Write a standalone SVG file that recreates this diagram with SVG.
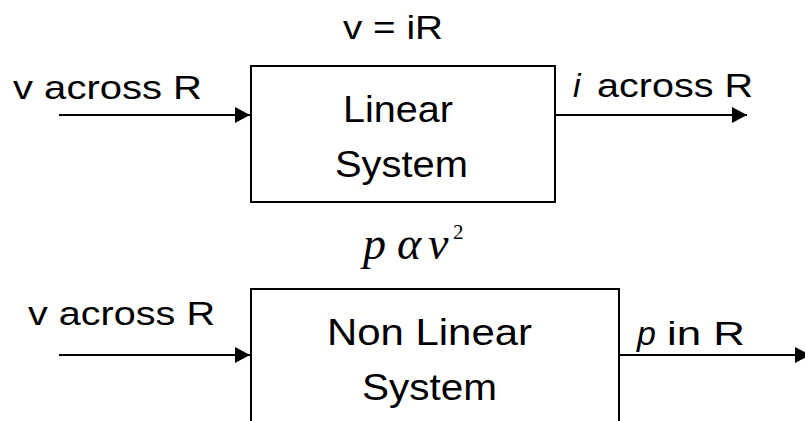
<svg xmlns="http://www.w3.org/2000/svg" width="805" height="421" viewBox="0 0 805 421">
<defs>
<marker id="arrow" markerUnits="userSpaceOnUse" markerWidth="16" markerHeight="17" refX="15" refY="8" orient="auto">
<path d="M0,0 L15,8 L0,16 Z" fill="#000"/>
</marker>
<style>
.box{fill:#fff;stroke:#000;stroke-width:2}
.t{font-family:"Liberation Sans",Arial,sans-serif;fill:#000}
.lbl{font-size:34px}
.btx{font-size:37px}
.it{font-style:italic}
.m{font-family:"Liberation Serif","Times New Roman",serif;font-style:italic;fill:#000}
.sup{font-family:"Liberation Serif","Times New Roman",serif;font-style:normal;fill:#000}
.conn{stroke:#000;stroke-width:2;fill:none}
</style>
</defs>
<rect width="805" height="421" fill="#fff"/>
<g id="connectors">
<line class="conn" x1="59" y1="115" x2="250" y2="115" marker-end="url(#arrow)"/>
<line class="conn" x1="555" y1="115" x2="747" y2="115" marker-end="url(#arrow)"/>
<line class="conn" x1="59" y1="355" x2="250" y2="355" marker-end="url(#arrow)"/>
<line class="conn" x1="619" y1="355" x2="810" y2="355" marker-end="url(#arrow)"/>
</g>
<g id="linear-system">
<rect class="box" x="251" y="66" width="304" height="136"/>
<text class="t btx" x="343" y="121.5" textLength="110" lengthAdjust="spacingAndGlyphs">Linear</text>
<text class="t btx" x="335" y="176.5" textLength="133" lengthAdjust="spacingAndGlyphs">System</text>
</g>
<g id="nonlinear-system">
<rect class="box" x="251" y="289" width="368" height="150"/>
<text class="t btx" x="327" y="345" textLength="205" lengthAdjust="spacingAndGlyphs">Non Linear</text>
<text class="t btx" x="362" y="400" textLength="135" lengthAdjust="spacingAndGlyphs">System</text>
</g>
<g id="labels">
<text class="t lbl" x="343" y="39" textLength="100" lengthAdjust="spacingAndGlyphs">v = iR</text>
<text class="t lbl" x="13" y="99" textLength="189" lengthAdjust="spacingAndGlyphs">v across R</text>
<text class="t lbl it" x="573" y="97">i</text>
<text class="t lbl" x="597" y="97" textLength="156" lengthAdjust="spacingAndGlyphs">across R</text>
<text class="m" x="363" y="259" font-size="46">p</text>
<text class="m" x="397" y="259" font-size="46">α</text>
<text class="m" x="428" y="259" font-size="46">v</text>
<text class="sup" x="453" y="239" font-size="21">2</text>
<text class="t lbl" x="28" y="325" textLength="187" lengthAdjust="spacingAndGlyphs">v across R</text>
<text class="t lbl it" x="637" y="345">p</text>
<text class="t lbl" x="667" y="345" textLength="78" lengthAdjust="spacingAndGlyphs">in R</text>
</g>
</svg>
